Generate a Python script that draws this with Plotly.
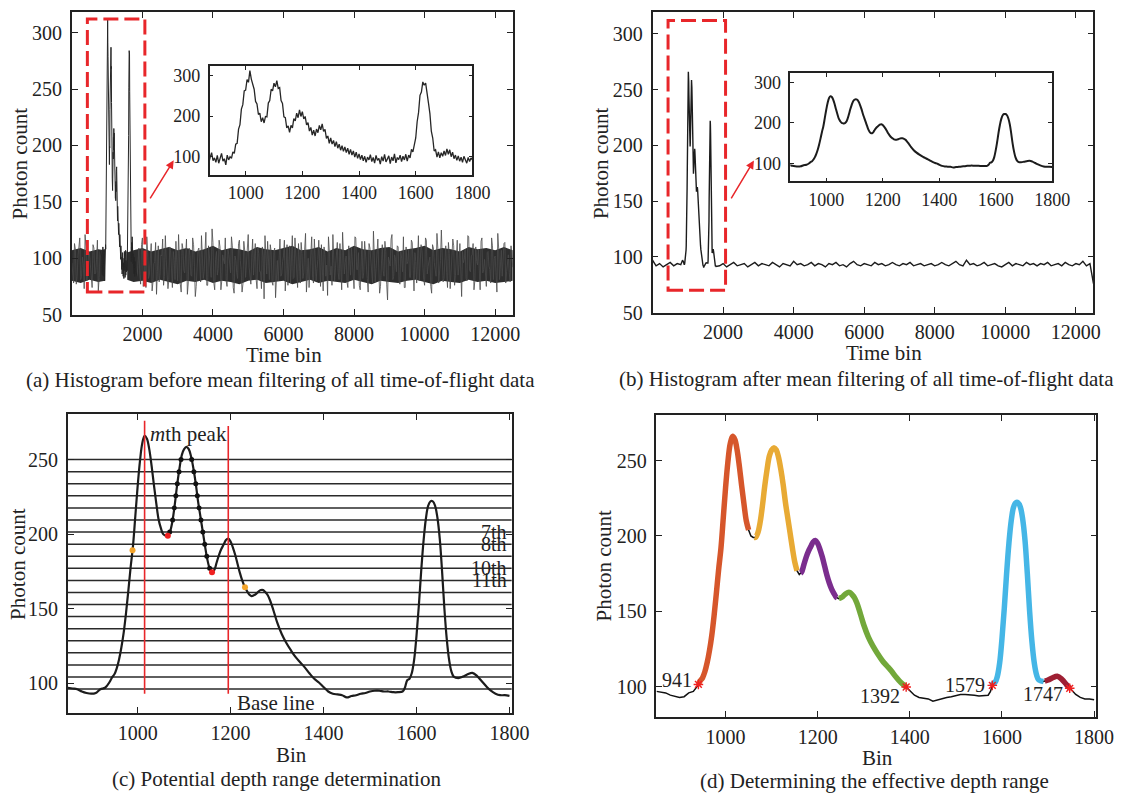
import numpy as np
import plotly.graph_objects as go

W, H = 1141, 803
FONT = "Liberation Serif, Times New Roman, serif"
INK = "#222222"
RED = "#E8262A"

# ---------------- raw photon-count histogram (before mean filtering) ----------------
raw_pre_bins = list(range(0, 801, 50))
raw_pre_counts = [96, 78, 108, 84, 115, 81, 101, 73, 110, 88,
                  104, 76, 112, 86, 99, 71, 107]
raw_pre_mid_bins = list(range(25, 800, 50))
raw_pre_mid_counts = [89, 113, 77, 102, 118, 84, 95, 121, 80, 106,
                      92, 74, 109, 87, 116, 83]

raw_win_bins = list(range(850, 1801, 5))
raw_win_counts = [
    101, 88, 106, 93, 85, 99, 110, 90, 97, 86,
    103, 84, 98, 108, 89, 95, 80, 104, 92, 100,
    96, 112, 108, 131, 133, 168, 179, 217, 228, 262,
    264, 290, 283, 312, 291, 279, 266, 236, 230, 204,
    207, 186, 196, 183, 199, 198, 232, 238, 266, 262,
    281, 272, 287, 268, 270, 238, 231, 198, 196, 171,
    176, 160, 177, 171, 194, 188, 207, 196, 215, 199,
    211, 193, 199, 178, 184, 163, 172, 153, 165, 151,
    168, 159, 177, 166, 181, 162, 167, 145, 151, 133,
    146, 131, 140, 125, 137, 121, 131, 116, 127, 113,
    124, 110, 121, 106, 118, 104, 114, 99, 111, 96,
    107, 93, 104, 90, 101, 86, 99, 92, 105, 88,
    98, 84, 103, 91, 96, 82, 100, 89, 106, 87,
    94, 102, 83, 99, 90, 107, 85, 98, 93, 104,
    88, 101, 92, 106, 89, 104, 97, 118, 112, 135,
    146, 186, 209, 251, 259, 284, 276, 281, 248, 232,
    206, 163, 146, 114, 117, 99, 112, 97, 110, 101,
    114, 103, 119, 106, 117, 100, 111, 95, 104, 91,
    102, 89, 99, 86, 101, 92, 84, 98, 88, 97,
    92,
]

raw_post_bins = list(range(1850, 12501, 50))
raw_post_counts = [
    83, 109, 77, 118, 90, 74, 105, 86, 113, 79,
    97, 68, 111, 85, 102, 76, 120, 89, 81, 107,
    74, 99, 115, 80, 93, 70, 108, 87, 117, 78,
    102, 84, 112, 66, 96, 109, 79, 104, 88, 123,
    76, 100, 83, 114, 72, 106, 91, 110, 80, 97,
    118, 75, 103, 87, 111, 69, 98, 82, 116, 90,
    77, 107, 94, 121, 79, 101, 85, 113, 73, 104,
    88, 110, 64, 99, 115, 81, 106, 76, 109, 92,
    80, 117, 86, 102, 71, 112, 95, 78, 120, 83,
    105, 74, 98, 114, 82, 108, 70, 100, 89, 119,
    78, 103, 91, 116, 75, 97, 110, 84, 67, 106,
    93, 121, 80, 101, 87, 113, 72, 104, 96, 79,
    111, 85, 99, 73, 118, 90, 76, 107, 82, 115,
    97, 70, 109, 86, 124, 79, 102, 92, 75, 112,
    84, 106, 63, 98, 117, 81, 103, 88, 110, 77,
    100, 119, 74, 95, 108, 83, 114, 71, 97, 105,
    80, 112, 89, 76, 116, 93, 101, 69, 109, 86,
    122, 78, 98, 107, 82, 111, 74, 104, 91, 117,
    76, 100, 85, 113, 66, 96, 108, 80, 119, 88,
    103, 72, 110, 94, 79, 115, 87, 99, 75, 106,
    90, 118, 81, 102, 70, 109, 96, 84, 113, 78,
    101, 87, 111, 92,
]
raw_post_mid_bins = list(range(1875, 12500, 50))
raw_post_mid_counts = [
    101, 86, 112, 75, 97, 119, 82, 108, 71, 95,
    114, 88, 79, 103, 117, 84, 99, 73, 110, 92,
    106, 81, 96, 121, 77, 113, 89, 102, 68, 109,
    85, 118, 93, 75, 107, 98, 120, 82, 104, 76,
    111, 90, 126, 78, 99, 85, 116, 72, 103, 95,
    80, 108, 91, 119, 74, 102, 87, 113, 98, 70,
    115, 83, 106, 92, 77, 117, 96, 81, 109, 88,
    73, 101, 120, 86, 94, 112, 79, 105, 65, 98,
    108, 84, 97, 116, 89, 76, 111, 93, 82, 118,
    91, 113, 78, 104, 87, 122, 95, 74, 107, 83,
    117, 80, 99, 88, 112, 71, 103, 94, 119, 85,
    76, 105, 92, 114, 81, 98, 123, 86, 102, 74,
    96, 110, 83, 119, 90, 105, 72, 115, 87, 100,
    82, 113, 95, 78, 108, 91, 117, 69, 104, 89,
    115, 77, 101, 93, 121, 84, 99, 111, 80, 106,
    88, 74, 110, 97, 83, 116, 92, 105, 78, 120,
    94, 107, 81, 118, 86, 100, 75, 112, 96, 84,
    109, 91, 125, 79, 103, 87, 114, 73, 98, 111,
    85, 116, 94, 77, 106, 99, 82, 120, 89, 102,
    113, 80, 97, 108, 72, 118, 90, 84, 105, 93,
    78, 111, 100, 86, 122, 81, 107, 95, 114, 88,
    103, 79, 97,
]

# dense core of the noise floor (where the raw trace overlaps itself)
core_pre_bins = [0, 250, 500, 750, 940]
core_pre_low = [80, 78, 81, 79, 80]
core_pre_high = [107, 109, 106, 108, 107]
core_post_bins = [1570] + list(range(1750, 12501, 250))
core_post_low = [
    81, 79, 80, 78, 81, 79, 77, 80, 79, 81,
    78, 80, 79, 77, 80, 81, 78, 79, 80, 77,
    79, 81, 78, 80, 79, 78, 81, 79, 77, 80,
    79, 78, 80, 81, 79, 77, 80, 79, 78, 81,
    79, 80, 78, 79, 80,
]
core_post_high = [
    105, 107, 109, 106, 108, 110, 107, 109, 106, 108,
    111, 107, 109, 108, 106, 110, 108, 107, 109, 111,
    107, 108, 110, 106, 109, 107, 111, 108, 107, 109,
    110, 106, 108, 109, 111, 107, 109, 108, 106, 110,
    108, 109, 107, 110, 107,
]

# ---------------- mean-filtered histogram ----------------
filt_bins = [
    850, 860, 870, 880, 890, 900, 910, 920, 930, 940,
    945, 950, 955, 960, 965, 970, 975, 980, 985, 990,
    995, 1000, 1005, 1010, 1015, 1020, 1025, 1030, 1035, 1040,
    1045, 1050, 1055, 1060, 1065, 1070, 1075, 1080, 1085, 1090,
    1095, 1100, 1105, 1110, 1115, 1120, 1125, 1130, 1135, 1140,
    1145, 1150, 1155, 1160, 1165, 1170, 1175, 1180, 1185, 1190,
    1195, 1200, 1205, 1210, 1215, 1220, 1225, 1230, 1235, 1240,
    1245, 1250, 1255, 1260, 1265, 1270, 1275, 1280, 1285, 1290,
    1295, 1300, 1310, 1320, 1330, 1340, 1350, 1360, 1370, 1380,
    1390, 1400, 1410, 1420, 1430, 1440, 1450, 1460, 1470, 1480,
    1490, 1500, 1510, 1520, 1530, 1540, 1550, 1560, 1570, 1575,
    1580, 1585, 1590, 1595, 1600, 1605, 1610, 1615, 1620, 1625,
    1630, 1635, 1640, 1645, 1650, 1655, 1660, 1665, 1670, 1675,
    1680, 1690, 1700, 1710, 1720, 1730, 1740, 1750, 1760, 1770,
    1780, 1790, 1800,
]
filt_counts = [
    97, 96.5, 96, 94.5, 93.5, 93, 93.5, 96, 97, 101,
    104, 106, 110, 116, 124, 134, 147, 162, 178, 192,
    212, 232, 249, 261, 266, 264, 257, 246, 233, 221,
    210, 204, 200, 199, 199, 202, 209, 220, 233, 244,
    253, 257, 258.5, 257, 252, 244, 234, 222, 212, 202,
    192, 183, 177, 174.5, 176, 181, 186, 190, 193, 196,
    197, 195, 191, 186, 180, 174, 169, 165, 162, 159.5,
    158.5, 159, 160, 161.5, 162.5, 162.5, 161, 159, 155.5, 151,
    146, 141, 133, 127, 122, 117.5, 114, 110.5, 106.5, 103,
    100.5, 97.5, 94.5, 93, 92.5, 92, 90.5, 91.5, 92, 93,
    93.5, 94.5, 95, 95, 94.5, 94.5, 94, 94, 94.5, 97,
    102, 103, 107, 116, 132, 152, 175, 195, 210, 219,
    222, 222, 219, 211, 197, 175, 150, 130, 116, 108,
    104.5, 103.5, 104.5, 106, 107, 105, 101.5, 98, 95, 93,
    92, 92, 91.5,
]

base_pre_bins = list(range(0, 801, 100))
base_pre_counts = [97, 92, 94, 91, 93, 95, 92, 94, 93]
base_post_bins = list(range(1900, 12501, 100))
base_post_counts = [
    92, 94, 91, 93, 95, 92, 93, 94, 91, 93,
    95, 92, 94, 93, 92, 95, 93, 91, 94, 93,
    92, 96, 93, 94, 92, 93, 95, 92, 94, 93,
    91, 94, 93, 95, 92, 93, 91, 94, 96, 93,
    92, 94, 93, 92, 95, 93, 94, 92, 93, 95,
    93, 92, 94, 93, 95, 92, 93, 94, 92, 93,
    94, 92, 93, 95, 93, 92, 94, 96, 93, 92,
    97, 93, 94, 92, 93, 95, 92, 93, 94, 92,
    91, 93, 95, 92, 94, 93, 92, 95, 93, 94,
    92, 94, 93, 95, 92, 93, 94, 92, 95, 93,
    92, 94, 93, 96, 92, 94, 76,
]

# zoomed window marked on the full-record plots
window_bins = [440, 2070]
window_counts = [70, 312]

# ---------------- (c) slicing levels and peak markers ----------------
slice_levels = [250, 241.9, 233.8, 225.7, 217.6, 209.5, 201.4, 193.3, 185.2, 177.1,
                169.0, 160.9, 152.8, 144.7, 136.6, 128.5, 120.4, 112.3, 104.2, 96.1]
level_tags = ["7th", "8th", "10th", "11th"]
level_tag_index = [7, 8, 10, 11]
peak_bins = [1015, 1195]
peak_line_tops = [276, 272.5]
peak_line_bottom = 93
valley_bins = [1065, 1160]
edge_bins = [989, 1231]

# ---------------- (d) effective depth segments ----------------
segment_ranges = [(941, 1050), (1063, 1155), (1163, 1242), (1246, 1392), (1579, 1690), (1693, 1747)]
segment_colors = ["#D6562B", "#E8AA34", "#7B2D8E", "#72A83A", "#45B6E6", "#9E1F33"]
boundary_bins = [941, 1392, 1579, 1747]


def fx(l, r):
    return [l / W, r / W]


def fy(t, b):
    return [1 - b / H, 1 - t / H]


fig = go.Figure()
common = dict(mode="lines", showlegend=False, hoverinfo="skip")

# (a) full record, raw: dense noise core, the noise floor, then the echo window
for cb, cl, ch in ((core_pre_bins, core_pre_low, core_pre_high),
                   (core_post_bins, core_post_low, core_post_high)):
    fig.add_trace(go.Scatter(x=cb + cb[::-1], y=ch + cl[::-1], fill="toself",
                             fillcolor="#2e2e2e", line=dict(width=0),
                             xaxis="x", yaxis="y", **common))
for nb, nc in ((raw_pre_bins + raw_pre_mid_bins, raw_pre_counts + raw_pre_mid_counts),
               (raw_post_bins + raw_post_mid_bins, raw_post_counts + raw_post_mid_counts)):
    order = np.argsort(nb)
    fig.add_trace(go.Scatter(x=np.array(nb)[order], y=np.array(nc)[order],
                             line=dict(color="#4a4a4a", width=0.8), xaxis="x", yaxis="y", **common))
fig.add_trace(go.Scatter(x=[raw_pre_bins[-1]] + raw_win_bins + [raw_post_bins[0]],
                         y=[raw_pre_counts[-1]] + raw_win_counts + [raw_post_counts[0]],
                         line=dict(color="#262626", width=1.0), xaxis="x", yaxis="y", **common))
# (b) full record, filtered
fig.add_trace(go.Scatter(x=base_pre_bins + filt_bins + base_post_bins,
                         y=base_pre_counts + filt_counts + base_post_counts,
                         line=dict(color="#1c1c1c", width=1.4), xaxis="x2", yaxis="y2", **common))
# insets
fig.add_trace(go.Scatter(x=raw_win_bins, y=raw_win_counts,
                         line=dict(color="#262626", width=1.3), xaxis="x3", yaxis="y3", **common))
fig.add_trace(go.Scatter(x=filt_bins, y=filt_counts, line_shape="spline",
                         line=dict(color="#1c1c1c", width=2), xaxis="x4", yaxis="y4", **common))

# (c) horizontal slicing lines
c_range = [850, 1805]
hx, hy = [], []
for lv in slice_levels:
    hx += [c_range[0], c_range[1], None]
    hy += [lv, lv, None]
fig.add_trace(go.Scatter(x=hx, y=hy, line=dict(color="#2a2a2a", width=1.5),
                         xaxis="x5", yaxis="y5", **common))
fig.add_trace(go.Scatter(x=filt_bins, y=filt_counts, line_shape="spline",
                         line=dict(color="#1c1c1c", width=2.2), xaxis="x5", yaxis="y5", **common))
vx, vy = [], []
for b, top in zip(peak_bins, peak_line_tops):
    vx += [b, b, None]
    vy += [peak_line_bottom, top, None]
fig.add_trace(go.Scatter(x=vx, y=vy, line=dict(color=RED, width=1.6),
                         xaxis="x5", yaxis="y5", **common))

# level crossings of the peak between the two valleys
fb = np.array(filt_bins, dtype=float)
fc = np.array(filt_counts, dtype=float)
lo, hi = valley_bins
dot_x, dot_y = [], []
for lv in slice_levels:
    for i in range(len(fb) - 1):
        y0, y1 = fc[i], fc[i + 1]
        if (y0 - lv) * (y1 - lv) <= 0 and y0 != y1:
            xc = fb[i] + (lv - y0) * (fb[i + 1] - fb[i]) / (y1 - y0)
            if lo + 3 < xc < hi - 3:
                dot_x.append(xc)
                dot_y.append(lv)
fig.add_trace(go.Scatter(x=dot_x, y=dot_y, mode="markers", marker=dict(color="#111111", size=5),
                         xaxis="x5", yaxis="y5", showlegend=False, hoverinfo="skip"))
fig.add_trace(go.Scatter(x=valley_bins, y=np.interp(valley_bins, fb, fc), mode="markers",
                         marker=dict(color="#F02020", size=6), xaxis="x5", yaxis="y5",
                         showlegend=False, hoverinfo="skip"))
fig.add_trace(go.Scatter(x=edge_bins, y=np.interp(edge_bins, fb, fc), mode="markers",
                         marker=dict(color="#F4A42A", size=6), xaxis="x5", yaxis="y5",
                         showlegend=False, hoverinfo="skip"))

# (d) filtered curve with coloured effective ranges
fig.add_trace(go.Scatter(x=filt_bins, y=filt_counts, line=dict(color="#111111", width=1.5),
                         xaxis="x6", yaxis="y6", **common))
for (s0, s1), col in zip(segment_ranges, segment_colors):
    sx = [s0] + [b for b in filt_bins if s0 < b < s1] + [s1]
    sy = np.interp(sx, fb, fc)
    fig.add_trace(go.Scatter(x=sx, y=sy, line=dict(color=col, width=5.5), line_shape="spline",
                             xaxis="x6", yaxis="y6", **common))
fig.add_trace(go.Scatter(x=boundary_bins, y=np.interp(boundary_bins, fb, fc), mode="markers",
                         marker=dict(symbol="asterisk-open", color="#F02020", size=8,
                                     line=dict(color="#F02020", width=1.4)),
                         xaxis="x6", yaxis="y6", showlegend=False, hoverinfo="skip"))


def axis(domain, rng, tickvals, anchor, size=20, ticklen=6, standoff=4):
    return dict(domain=domain, range=rng, tickvals=tickvals,
                ticktext=[str(v) for v in tickvals], anchor=anchor,
                showline=True, linecolor=INK, linewidth=1.6, mirror="ticks",
                ticks="inside", ticklen=ticklen, tickwidth=1.4, tickcolor=INK,
                showgrid=False, zeroline=False, ticklabelstandoff=standoff,
                tickfont=dict(family=FONT, size=size, color=INK))


big_x = [2000, 4000, 6000, 8000, 10000, 12000]
big_y = [50, 100, 150, 200, 250, 300]
bin_x = [1000, 1200, 1400, 1600, 1800]
fig.update_layout(
    width=W, height=H, margin=dict(l=0, r=0, t=0, b=0),
    paper_bgcolor="white", plot_bgcolor="white",
    xaxis=axis(fx(73, 521), [0, 12500], big_x, "y", standoff=1),
    yaxis=axis(fy(12, 319), [50, 318.4], big_y, "x"),
    xaxis2=axis(fx(663, 1111), [0, 12500], big_x, "y2", standoff=1),
    yaxis2=axis(fy(12, 317), [50, 319.7], big_y, "x2"),
    xaxis3=axis(fx(213, 480), [873, 1800], bin_x, "y3", size=18, ticklen=4, standoff=1),
    yaxis3=axis(fy(67, 177), [56, 323], [100, 200, 300], "x3", size=18, ticklen=4),
    xaxis4=axis(fx(803, 1069), [873, 1800], bin_x, "y4", size=18, ticklen=4, standoff=1),
    yaxis4=axis(fy(74, 184), [56, 323], [100, 200, 300], "x4", size=18, ticklen=4),
    xaxis5=axis(fx(69, 520), c_range, bin_x, "y5", standoff=1),
    yaxis5=axis(fy(420, 723), [80, 280.4], [100, 150, 200, 250], "x5"),
    xaxis6=axis(fx(667, 1114), c_range, bin_x, "y6", standoff=1),
    yaxis6=axis(fy(421, 727), [80, 280], [100, 150, 200, 250], "x6"),
)

# dashed zoom windows
for xr, yr in (("x", "y"), ("x2", "y2")):
    fig.add_shape(type="rect", xref=xr, yref=yr, x0=window_bins[0], x1=window_bins[1],
                  y0=window_counts[0], y1=window_counts[1],
                  line=dict(color=RED, width=3, dash="15px,6px"))


def ptext(text, x, y, size=21, angle=0):
    fig.add_annotation(text=text, x=x / W, y=1 - y / H, xref="paper", yref="paper",
                       showarrow=False, xanchor="center", yanchor="middle", textangle=angle,
                       font=dict(family=FONT, size=size, color=INK))


# arrows pointing to the insets
for hx_, hy_, tx, ty in ((176.5, 162.6, 152, 202), (766, 162.8, 742.4, 202)):
    fig.add_annotation(x=hx_ / W, y=1 - hy_ / H, xref="paper", yref="paper",
                       ax=tx - hx_, ay=ty - hy_, text="", showarrow=True,
                       arrowcolor=RED, arrowwidth=1.5, arrowhead=2, arrowsize=1.1)

# axis titles and captions
ptext("Photon count", 20, 166, angle=-90)
ptext("Photon count", 610, 165, angle=-90)
ptext("Photon count", 18, 572, angle=-90)
ptext("Photon count", 614, 573, angle=-90)
ptext("Time bin", 289, 360)
ptext("Time bin", 898, 358)
ptext("Bin", 296, 765)
ptext("Bin", 892, 769)
ptext("(a) Histogram before mean filtering of all time-of-flight data", 285, 385)
ptext("(b) Histogram after mean filtering of all time-of-flight data", 880, 384)
ptext("(c) Potential depth range determination", 281, 790)
ptext("(d) Determining the effective depth range", 889, 792)

# (c) annotations
fig.add_annotation(text="<i>m</i>th peak", x=1109, y=267, xref="x5", yref="y5", showarrow=False,
                   font=dict(family=FONT, size=21, color=INK))
fig.add_annotation(text="Base line", x=1297, y=87, xref="x5", yref="y5", showarrow=False,
                   font=dict(family=FONT, size=21, color=INK))
for tag, k in zip(level_tags, level_tag_index):
    fig.add_annotation(text=tag, x=1800, y=slice_levels[k - 1], xref="x5", yref="y5",
                       showarrow=False, xanchor="right", yanchor="middle",
                       font=dict(family=FONT, size=20, color=INK))

# (d) boundary labels
label_shift = {941: (-4, 4), 1392: (-4, -9), 1579: (-5, 0), 1747: (-5, -6)}
for b, v in zip(boundary_bins, np.interp(boundary_bins, fb, fc)):
    dx, dy = label_shift[b]
    fig.add_annotation(text=str(b), x=b, y=v, xref="x6", yref="y6", showarrow=False,
                       xanchor="right", yanchor="middle", xshift=dx, yshift=dy,
                       font=dict(family=FONT, size=20, color=INK))

fig.write_html("out.html")
